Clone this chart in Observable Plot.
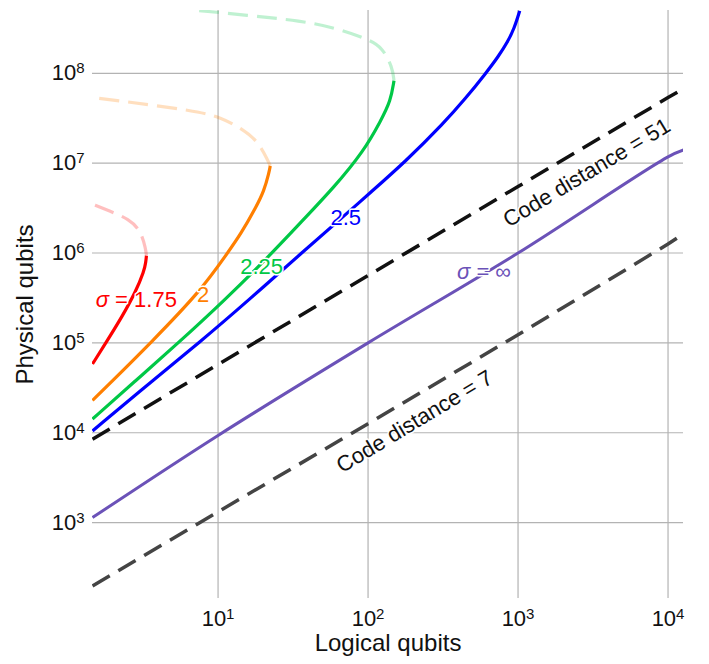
<!DOCTYPE html>
<html><head><meta charset="utf-8">
<script src="https://cdn.jsdelivr.net/npm/d3@7"></script>
<script src="https://cdn.jsdelivr.net/npm/@observablehq/plot@0.6"></script>
<style>body{margin:0;background:#fff;}</style>
</head><body><div id="chart"></div>
<script>
// Axis ticks
const xTicks = [10, 100, 1000, 10000];
const xTickExp = ["1", "2", "3", "4"];
const yTicks = [1e3, 1e4, 1e5, 1e6, 1e7, 1e8];
const yTickExp = ["3", "4", "5", "6", "7", "8"];

// sigma = 1.75 (red)
const redSolidX = [1.455, 1.786, 2.307, 2.825, 3.214, 3.296, 3.33];
const redSolidY = [58200, 100000, 199500, 371500, 631000, 787000, 933000];
const redDashX = [3.33, 3.296, 3.055, 2.553, 1.875, 1.455];
const redDashY = [933000, 1109000, 1770000, 2388000, 2951000, 3508000];

// sigma = 2 (orange)
const orangeSolidX = [1.455, 1.928, 3.556, 7.674, 11.56, 14.16, 17.78, 20.28, 21.88, 22.28];
const orangeSolidY = [22900, 36300, 100000, 380200, 1000000, 1622000, 3162000, 4932000, 7889000, 9333000];
const orangeDashX = [22.28, 21.53, 18.32, 14.55, 10.45, 7.096, 2.188, 1.455];
const orangeDashY = [9333000, 1.064e7, 1.778e7, 2.393e7, 3.236e7, 3.828e7, 4.943e7, 5.37e7];

// sigma = 2.25 (green)
const greenSolidX = [1.455, 2.825, 5.433, 10.96, 22.96, 35.56, 59.29, 93.97, 121.6, 141.6, 148.9];
const greenSolidY = [14220, 38020, 100000, 294400, 1e6, 2188000, 5370000, 1.374e7, 2.965e7, 4.943e7, 8.26e7];
const greenDashX = [148.9, 145.5, 124.7, 100, 59.29, 35.56, 16.94, 7.464];
const greenDashY = [8.26e7, 1.161e8, 1.936e8, 2.399e8, 3.236e8, 3.837e8, 4.365e8, 4.989e8];

// sigma = 2.5 (blue)
const blueX = [1.455, 3.656, 7.464, 16.11, 35.97, 69.98, 100, 178.2, 321.4, 446.7, 609.5, 741.3, 849.2, 944.1, 1026];
const blueY = [10470, 38020, 100000, 302000, 1e6, 2630000, 4467000, 1.047e7, 2.818e7, 5.248e7, 1e8, 1.549e8, 2.213e8, 3.162e8, 4.955e8];

// sigma = infinity (purple)
const infX = [1.455, 10, 100, 1000, 10000, 12680];
const infY = [1138, 9333, 1e5, 1e6, 1.175e7, 1.4e7];

// Code distance = 51
const d51X = [1.455, 10, 100, 1000, 10000, 12680];
const d51Y = [8492, 57540, 562300, 5495000, 5.37e7, 6.761e7];

// Code distance = 7
const d7X = [1.455, 10, 100, 1000, 10000, 12680];
const d7Y = [197.2, 1318, 12590, 123000, 1259000, 1641000];

// Labels
const labelTexts = ["σ = 1.75", "2", "2.25", "2.5", "σ = ∞", "Code distance = 51", "Code distance = 7"];
const labelX = [2.85, 7.96, 19.5, 71, 593, 2870, 204.7];
const labelY = [3.02e5, 3.44e5, 6.92e5, 2.44e6, 6.08e5, 7.82e6, 1.33e4];
const labelColors = ["#ff0000", "#ff7f00", "#00c846", "#0000ff", "#6b52b8", "#111111", "#111111"];
const labelRotate = [0, 0, 0, 0, 0, -31, -31];

function pts(xs, ys) { return xs.map((x, i) => [x, ys[i]]); }
function curve(xs, ys, opts) {
  return Plot.line(pts(xs, ys), Object.assign({x: d => d[0], y: d => d[1], curve: "basis", clip: true, strokeLinecap: "butt"}, opts));
}

const FADE = 0.25;
const chart = Plot.plot({
  width: 709, height: 664,
  marginLeft: 92, marginRight: 26, marginTop: 10, marginBottom: 66,
  x: {type: "log", domain: [1.455, 12680]},
  y: {type: "log", domain: [143, 5e8]},
  color: {type: "identity"},
  style: {fontFamily: "'Liberation Sans', Arial, sans-serif", background: "white", color: "#111"},
  marks: [
    Plot.gridX(xTicks, {stroke: "#b3b3b3", strokeOpacity: 1, strokeWidth: 1.2}),
    Plot.gridY(yTicks, {stroke: "#b3b3b3", strokeOpacity: 1, strokeWidth: 1.2}),
    Plot.axisX(xTicks, {tickSize: 0, tickPadding: 12, fontSize: 22, label: null, tickFormat: d => xTickExp[xTicks.indexOf(d)]}),
    Plot.axisY(yTicks, {tickSize: 0, tickPadding: 8, fontSize: 22, label: null, tickFormat: d => yTickExp[yTicks.indexOf(d)]}),
    curve(d7X, d7Y, {stroke: "#444", strokeWidth: 3.5, strokeDasharray: "20,10", curve: "linear"}),
    curve(d51X, d51Y, {stroke: "#111", strokeWidth: 3.5, strokeDasharray: "20,10", curve: "linear"}),
    curve(infX, infY, {stroke: "#6b52b8", strokeWidth: 3, curve: "catmull-rom"}),
    curve(redDashX, redDashY, {stroke: "#ff0000", strokeOpacity: FADE, strokeWidth: 3.2, strokeDasharray: "20,9"}),
    curve(orangeDashX, orangeDashY, {stroke: "#ff7f00", strokeOpacity: FADE, strokeWidth: 3.2, strokeDasharray: "20,9"}),
    curve(greenDashX, greenDashY, {stroke: "#00c846", strokeOpacity: FADE, strokeWidth: 3.2, strokeDasharray: "20,9"}),
    curve(redSolidX, redSolidY, {stroke: "#ff0000", strokeWidth: 3.2}),
    curve(orangeSolidX, orangeSolidY, {stroke: "#ff7f00", strokeWidth: 3.2}),
    curve(greenSolidX, greenSolidY, {stroke: "#00c846", strokeWidth: 3.2}),
    curve(blueX, blueY, {stroke: "#0000ff", strokeWidth: 3.2}),
    Plot.text(labelTexts, {
      x: (d, i) => labelX[i], y: (d, i) => labelY[i], text: d => d,
      fill: (d, i) => labelColors[i], rotate: (d, i) => labelRotate[i],
      fontSize: 22, stroke: "white", strokeWidth: 3
    }),
    Plot.text(["Logical qubits"], {text: d => d, frameAnchor: "bottom", textAnchor: "middle", lineAnchor: "middle", dy: 45, fontSize: 24, fill: "#111"}),
    Plot.text(["Physical qubits"], {text: d => d, frameAnchor: "left", textAnchor: "middle", lineAnchor: "middle", dx: -67, rotate: -90, fontSize: 24, fill: "#111"})
  ]
});
document.getElementById("chart").appendChild(chart);

// Superscript exponents on tick labels: 10^n
const NS = "http://www.w3.org/2000/svg";
chart.querySelectorAll('g[aria-label="x-axis tick label"] text, g[aria-label="y-axis tick label"] text').forEach(t => {
  const exp = t.textContent;
  t.textContent = "10";
  const s = document.createElementNS(NS, "tspan");
  s.setAttribute("dy", "-7");
  s.setAttribute("font-size", "15");
  s.textContent = exp;
  t.appendChild(s);
});
// Italic sigma in labels
chart.querySelectorAll("text").forEach(t => {
  const s = t.textContent;
  if (s.startsWith("σ")) {
    t.textContent = "";
    const it = document.createElementNS(NS, "tspan");
    it.setAttribute("font-style", "italic");
    it.textContent = "σ";
    t.appendChild(it);
    t.appendChild(document.createTextNode(s.slice(1)));
  }
});
</script>
</body></html>
